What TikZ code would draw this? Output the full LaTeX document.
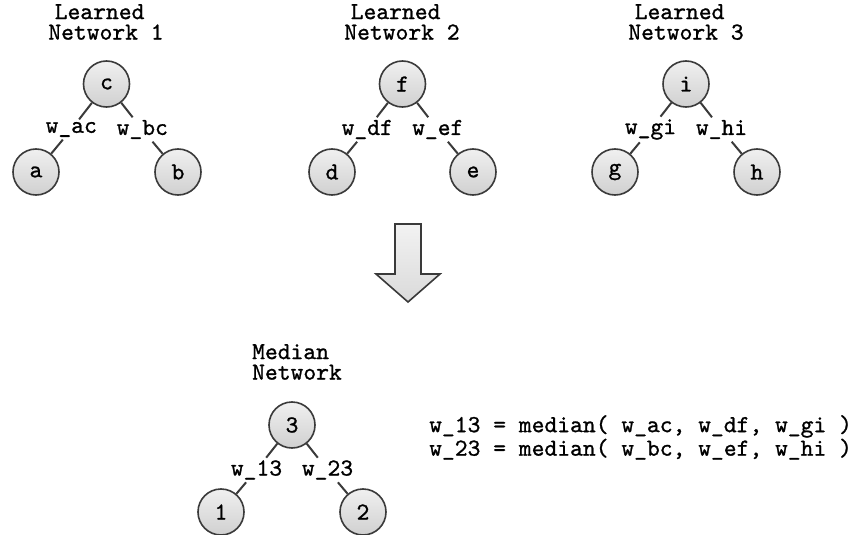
\documentclass[tikz,border=0pt]{standalone}
\usepackage{fontspec}
\newfontfamily\courface{lmmono10-regular.otf}[FakeBold=1.0]
\usetikzlibrary{calc}
\definecolor{ink}{HTML}{3A3A3A}
\definecolor{nodetop}{HTML}{F0F0F0}
\definecolor{nodebot}{HTML}{D0D0D0}
\definecolor{arrtop}{HTML}{F2F2F2}
\definecolor{arrbot}{HTML}{DADADA}
\newcommand\monofont{\courface\fontsize{24.4}{20.5}\selectfont}
\newcommand\eqfont{\courface\fontsize{24.4}{15.5}\selectfont}
\tikzset{
  netnode/.style={circle, draw=ink, line width=1.6pt, minimum size=46pt, inner sep=0pt,
    top color=nodetop, bottom color=nodebot, font=\monofont},
  wlabel/.style={inner sep=2.5pt, font=\monofont},
  edgeline/.style={draw=ink, line width=2pt},
  titlenode/.style={align=center, anchor=north, inner sep=0pt, font=\monofont},
  blockarrow/.style={draw=ink, line width=1.6pt, line join=miter, top color=arrtop, bottom color=arrbot},
}
\begin{document}
\begin{tikzpicture}[x=1pt,y=-1pt]
\useasboundingbox (0,0) rectangle (863,535);
\fill[white] (0,0) rectangle (863,535);

% ---- Learned Network 1
\node[titlenode] (t1) at (106,4) {Learned\phantom{x}\\Network 1};
\node[netnode] (c) at (106.5,84) {c};
\node[netnode] (a) at (36,172) {a};
\node[netnode] (b) at (178,172) {b};
\node[wlabel] (wac) at ($(c)!0.5!(a)+(0,1.5)$) {w\_ac};
\node[wlabel] (wbc) at ($(c)!0.5!(b)+(0,1.5)$) {w\_bc};
\draw[edgeline] (c) -- (wac) -- (a);
\draw[edgeline] (c) -- (wbc) -- (b);

% ---- Learned Network 2
\node[titlenode] (t2) at (402,4) {Learned\phantom{x}\\Network 2};
\node[netnode] (f) at (402.5,84) {f};
\node[netnode] (d) at (332,172) {d};
\node[netnode] (e) at (473,172) {e};
\node[wlabel] (wdf) at ($(f)!0.5!(d)+(0,1.5)$) {w\_df};
\node[wlabel] (wef) at ($(f)!0.5!(e)+(0,1.5)$) {w\_ef};
\draw[edgeline] (f) -- (wdf) -- (d);
\draw[edgeline] (f) -- (wef) -- (e);

% ---- Learned Network 3
\node[titlenode] (t3) at (686,4) {Learned\phantom{x}\\Network 3};
\node[netnode] (i) at (686,84) {i};
\node[netnode] (g) at (615,172) {g};
\node[netnode] (h) at (757,172) {h};
\node[wlabel] (wgi) at ($(i)!0.5!(g)+(0,1.5)$) {w\_gi};
\node[wlabel] (whi) at ($(i)!0.5!(h)+(0,1.5)$) {w\_hi};
\draw[edgeline] (i) -- (wgi) -- (g);
\draw[edgeline] (i) -- (whi) -- (h);

% ---- block arrow
\draw[blockarrow] (395,224) -- (421,224) -- (421,274) -- (440,274) -- (408,302)
  -- (376,274) -- (395,274) -- cycle;

% ---- Median Network
\node[titlenode] (tm) at (297,344) {Median\phantom{x}\\Network};
\node[netnode] (n3) at (292,425) {3};
\node[netnode] (n1) at (221,512) {1};
\node[netnode] (n2) at (363,512) {2};
\node[wlabel] (w13) at ($(n3)!0.5!(n1)+(0,1.5)$) {w\_13};
\node[wlabel] (w23) at ($(n3)!0.5!(n2)+(0,1.5)$) {w\_23};
\draw[edgeline] (n3) -- (w13) -- (n1);
\draw[edgeline] (n3) -- (w23) -- (n2);

% ---- equations
\node[align=left, anchor=north west, inner sep=0pt, font=\eqfont] (eqs) at (429,415)
  {w\_13 = median( w\_ac, w\_df, w\_gi )\\w\_23 = median( w\_bc, w\_ef, w\_hi )};
\end{tikzpicture}
\end{document}
